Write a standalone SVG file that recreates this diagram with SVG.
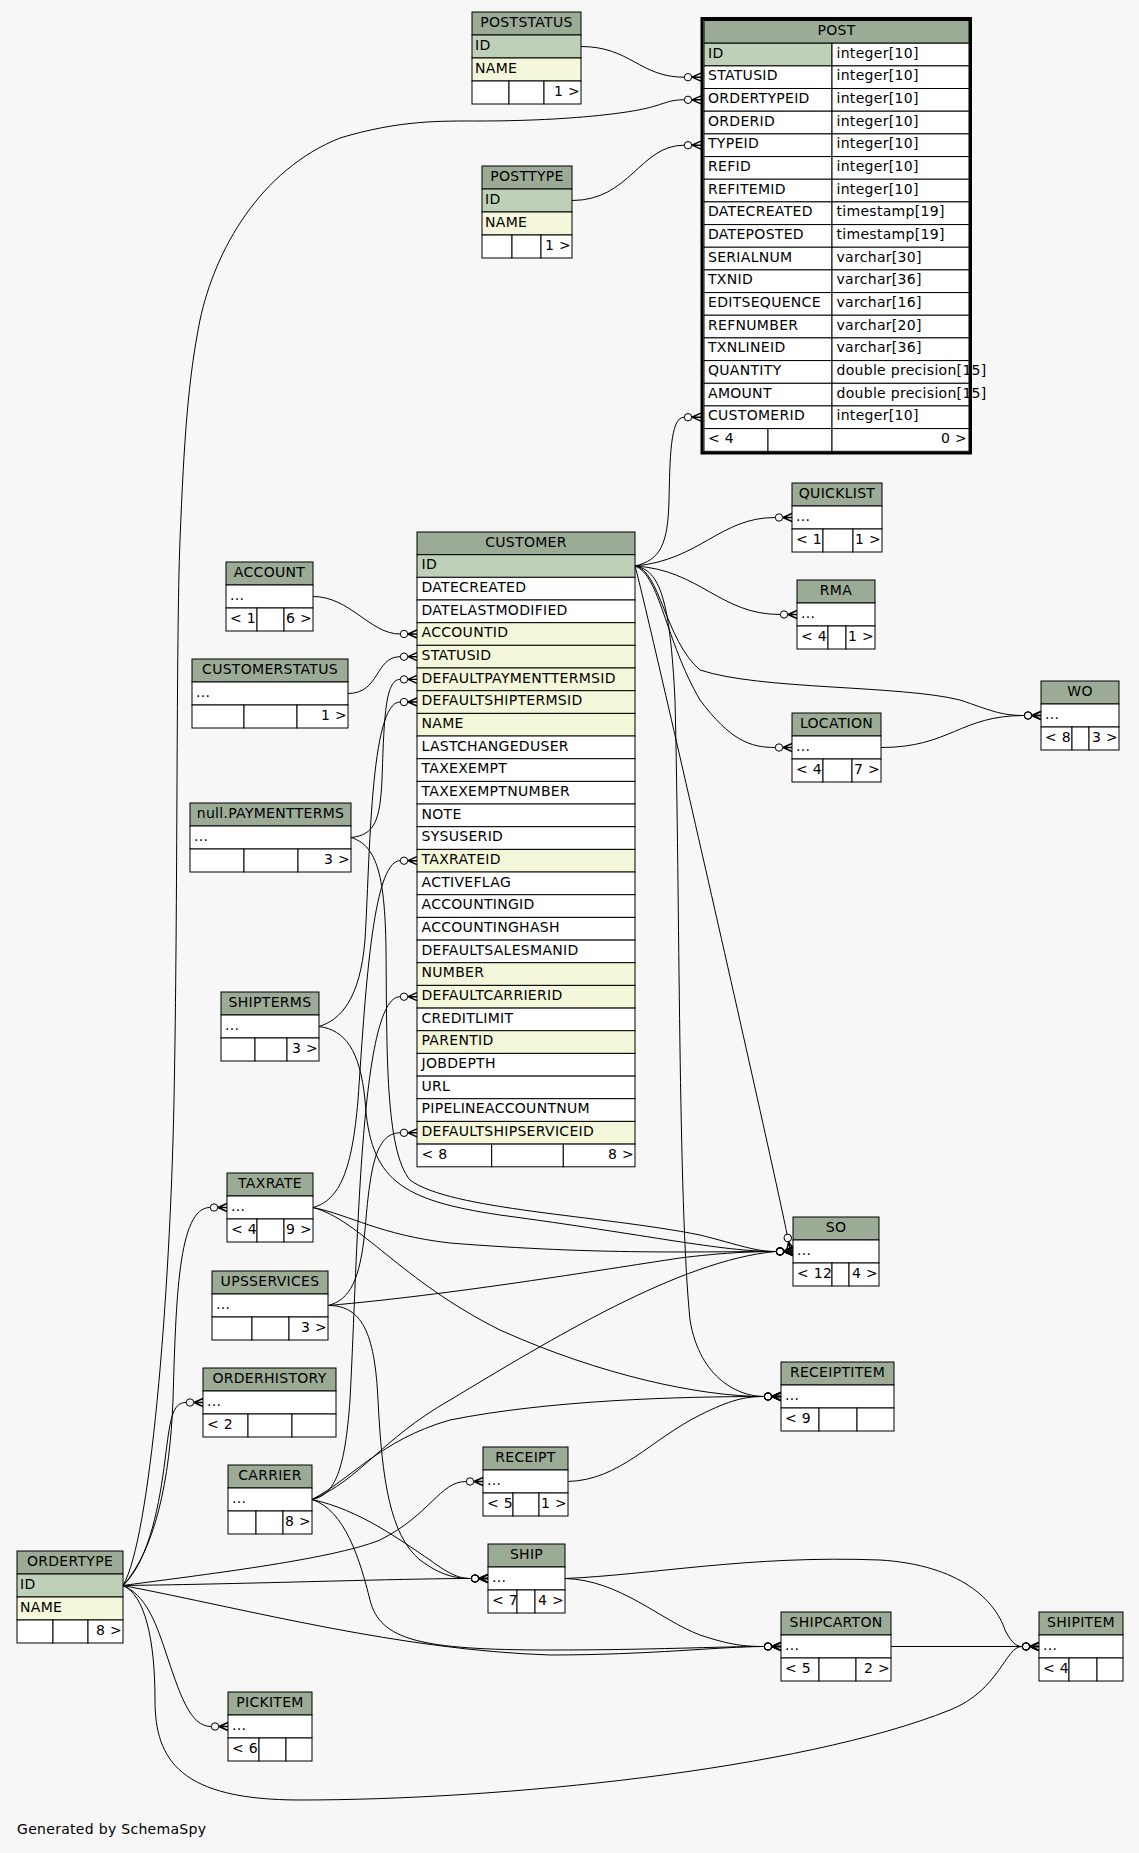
<svg xmlns="http://www.w3.org/2000/svg" width="1139" height="1853" viewBox="0 0 1139 1853">
<style>
text{font-family:"DejaVu Sans","Liberation Sans",sans-serif;font-size:14px;letter-spacing:0.3px;fill:#000;transform:translate(0px,-1.5px)}
.c{text-anchor:middle}
.r{text-anchor:end}
rect{stroke:#000;stroke-width:1}
.h{fill:#9bab96}
.p{fill:#bed1b8}
.i{fill:#f4f7da}
.w{fill:#fff}
.e path{fill:none;stroke:#000;stroke-width:1;marker-end:url(#co)}
</style>
<defs>
<marker id="co" viewBox="0 -6 18 12" refX="0" refY="0" markerWidth="18" markerHeight="12" markerUnits="userSpaceOnUse" orient="auto" overflow="visible">
<circle cx="4" cy="0" r="3.7" fill="none" stroke="#000" stroke-width="1"/>
<path d="M8,0 L17,-4 M8,0 L17,0 M8,0 L17,4" stroke="#000" stroke-width="1.4" fill="none"/>
</marker>
</defs>
<rect x="0" y="0" width="1139" height="1853" fill="#f7f7f7" style="stroke:none"/>

<g class="e" id="connectors">
<path d="M581,46.5 C630,46.5 640,77.2 684,77.2"/>
<path d="M572,200.5 C630,200.5 640,145.2 684,145.2"/>
<path d="M123,1585.5 C150,1540 170,1300 174,1100 C178,900 176,640 180,540 C184,440 188,380 200,320 C215,250 260,170 340,138 C400,120 440,121 480,121 C560,121 630,114 655,106 C668,102 672,99.8 684,99.8"/>
<path d="M123,1585.5 C155,1550 170,1480 173,1400 C176,1300 178,1207.5 210,1207.5"/>
<path d="M123,1585.5 C150,1560 160,1500 165,1460 C170,1420 172,1402.5 186,1402.5"/>
<path d="M123,1585.5 C145,1595 155,1620 165,1650 C180,1695 190,1726.5 211,1726.5"/>
<path d="M123,1585.5 C145,1595 155,1640 155,1700 C155,1760 180,1800 300,1800 C500,1800 800,1770 950,1710 C1000,1690 1005,1646.5 1022,1646.5"/>
<path d="M123,1585.5 C200,1575 330,1560 380,1540 C430,1515 440,1481.5 466,1481.5"/>
<path d="M123,1585.5 C250,1584 400,1578.5 471,1578.5"/>
<path d="M123,1585.5 C250,1610 400,1650 550,1655 C650,1655 720,1646.5 764,1646.5"/>
<path d="M313,596.5 C350,596.5 370,634 400,634"/>
<path d="M348,693.5 C380,693.5 375,656.7 400,656.7"/>
<path d="M351,837.5 C375,835 380,820 382,780 C384,720 385,679.4 400,679.4"/>
<path d="M319,1026.5 C340,1020 360,1000 365,940 C370,860 370,702 400,702"/>
<path d="M313,1207.5 C340,1200 352,1170 358,1100 C365,1000 372,860.7 400,860.7"/>
<path d="M312,1499.5 C335,1495 345,1470 350,1400 C358,1250 360,996.7 400,996.7"/>
<path d="M328,1305.5 C350,1300 360,1280 365,1230 C370,1170 375,1132.8 400,1132.8"/>
<path d="M635,566 C645,600 770,1150 787,1234"/>
<path d="M351,837.5 C375,845 385,870 386,950 C387,1050 385,1150 410,1180 C450,1210 600,1215 700,1235 C740,1245 755,1251.5 776,1251.5"/>
<path d="M313,1207.5 C350,1215 380,1235 450,1243 C600,1255 700,1251.5 776,1251.5"/>
<path d="M328,1305.5 C450,1295 600,1270 680,1258 C720,1253 750,1251.5 776,1251.5"/>
<path d="M312,1499.5 C360,1480 380,1440 450,1400 C550,1340 680,1260 776,1251.5"/>
<path d="M319,1026.5 C345,1030 360,1050 365,1100 C370,1180 400,1200 500,1215 C650,1235 720,1251.5 776,1251.5"/>
<path d="M313,1207.5 C360,1220 400,1280 500,1330 C600,1375 700,1396.5 764,1396.5"/>
<path d="M635,566 C660,570 670,600 675,700 C680,900 678,1200 690,1320 C700,1380 740,1396.5 764,1396.5"/>
<path d="M568,1481.5 C620,1480 650,1440 700,1415 C730,1400 745,1396.5 764,1396.5"/>
<path d="M312,1499.5 C350,1480 380,1440 450,1420 C550,1400 680,1396.5 764,1396.5"/>
<path d="M328,1305.5 C365,1305 375,1340 378,1400 C382,1480 390,1535 420,1560 C440,1575 455,1578.5 471,1578.5"/>
<path d="M312,1499.5 C360,1510 400,1540 430,1560 C450,1575 460,1578.5 471,1578.5"/>
<path d="M312,1499.5 C345,1510 360,1560 370,1600 C380,1640 420,1650 550,1650 C650,1650 720,1646.5 764,1646.5"/>
<path d="M565,1578.5 C620,1580 660,1620 700,1635 C730,1645 745,1646.5 764,1646.5"/>
<path d="M565,1578.5 C650,1575 750,1555 880,1560 C960,1565 995,1600 1005,1630 C1010,1640 1015,1646.5 1022,1646.5"/>
<path d="M891,1646.5 L1022,1646.5"/>
<path d="M881,747.5 C950,747.5 960,715.5 1024,715.5"/>
<path d="M635,566 C660,570 665,640 700,670 C760,690 900,685 960,700 C990,710 1000,715.5 1024,715.5"/>
<path d="M635,566 C660,575 665,640 700,700 C730,740 750,747.5 775,747.5"/>
<path d="M635,566 C700,570 720,614.5 780,614.5"/>
<path d="M635,566 C700,560 720,517.5 775,517.5"/>
<path d="M635,566 C660,560 668,545 669,500 C670,460 670,417.2 684,417.2"/>
</g>

<g id="POST">
<rect x="702" y="18.5" width="268.5" height="434.5" fill="none" style="stroke-width:3"/>
<rect class="h" x="704" y="20.5" width="265" height="22.7"/><text class="c" x="836.5" y="36.5">POST</text>
<rect class="p" x="704" y="43.2" width="128" height="22.7"/><rect class="w" x="832" y="43.2" width="137" height="22.7"/><text x="708" y="59.2">ID</text><text x="836.5" y="59.2">integer[10]</text>
<rect class="w" x="704" y="65.9" width="128" height="22.7"/><rect class="w" x="832" y="65.9" width="137" height="22.7"/><text x="708" y="81.9">STATUSID</text><text x="836.5" y="81.9">integer[10]</text>
<rect class="w" x="704" y="88.5" width="128" height="22.7"/><rect class="w" x="832" y="88.5" width="137" height="22.7"/><text x="708" y="104.5">ORDERTYPEID</text><text x="836.5" y="104.5">integer[10]</text>
<rect class="w" x="704" y="111.2" width="128" height="22.7"/><rect class="w" x="832" y="111.2" width="137" height="22.7"/><text x="708" y="127.2">ORDERID</text><text x="836.5" y="127.2">integer[10]</text>
<rect class="w" x="704" y="133.9" width="128" height="22.7"/><rect class="w" x="832" y="133.9" width="137" height="22.7"/><text x="708" y="149.9">TYPEID</text><text x="836.5" y="149.9">integer[10]</text>
<rect class="w" x="704" y="156.6" width="128" height="22.7"/><rect class="w" x="832" y="156.6" width="137" height="22.7"/><text x="708" y="172.6">REFID</text><text x="836.5" y="172.6">integer[10]</text>
<rect class="w" x="704" y="179.2" width="128" height="22.7"/><rect class="w" x="832" y="179.2" width="137" height="22.7"/><text x="708" y="195.2">REFITEMID</text><text x="836.5" y="195.2">integer[10]</text>
<rect class="w" x="704" y="201.9" width="128" height="22.7"/><rect class="w" x="832" y="201.9" width="137" height="22.7"/><text x="708" y="217.9">DATECREATED</text><text x="836.5" y="217.9">timestamp[19]</text>
<rect class="w" x="704" y="224.6" width="128" height="22.7"/><rect class="w" x="832" y="224.6" width="137" height="22.7"/><text x="708" y="240.6">DATEPOSTED</text><text x="836.5" y="240.6">timestamp[19]</text>
<rect class="w" x="704" y="247.2" width="128" height="22.7"/><rect class="w" x="832" y="247.2" width="137" height="22.7"/><text x="708" y="263.2">SERIALNUM</text><text x="836.5" y="263.2">varchar[30]</text>
<rect class="w" x="704" y="269.9" width="128" height="22.7"/><rect class="w" x="832" y="269.9" width="137" height="22.7"/><text x="708" y="285.9">TXNID</text><text x="836.5" y="285.9">varchar[36]</text>
<rect class="w" x="704" y="292.6" width="128" height="22.7"/><rect class="w" x="832" y="292.6" width="137" height="22.7"/><text x="708" y="308.6">EDITSEQUENCE</text><text x="836.5" y="308.6">varchar[16]</text>
<rect class="w" x="704" y="315.2" width="128" height="22.7"/><rect class="w" x="832" y="315.2" width="137" height="22.7"/><text x="708" y="331.2">REFNUMBER</text><text x="836.5" y="331.2">varchar[20]</text>
<rect class="w" x="704" y="337.9" width="128" height="22.7"/><rect class="w" x="832" y="337.9" width="137" height="22.7"/><text x="708" y="353.9">TXNLINEID</text><text x="836.5" y="353.9">varchar[36]</text>
<rect class="w" x="704" y="360.6" width="128" height="22.7"/><rect class="w" x="832" y="360.6" width="137" height="22.7"/><text x="708" y="376.6">QUANTITY</text><text x="836.5" y="376.6">double precision[15]</text>
<rect class="w" x="704" y="383.3" width="128" height="22.7"/><rect class="w" x="832" y="383.3" width="137" height="22.7"/><text x="708" y="399.3">AMOUNT</text><text x="836.5" y="399.3">double precision[15]</text>
<rect class="w" x="704" y="405.9" width="128" height="22.7"/><rect class="w" x="832" y="405.9" width="137" height="22.7"/><text x="708" y="421.9">CUSTOMERID</text><text x="836.5" y="421.9">integer[10]</text>
<rect class="w" x="704" y="428.6" width="64" height="22.7"/><rect class="w" x="768" y="428.6" width="64" height="22.7"/><rect class="w" x="832" y="428.6" width="137" height="22.7"/><text x="708" y="444.6">&lt; 4</text><text class="r" x="967" y="444.6">0 &gt;</text>
</g>

<g id="POSTSTATUS">
<rect class="h" x="472" y="12" width="109" height="23"/><text class="c" x="526.5" y="28">POSTSTATUS</text>
<rect class="p" x="472" y="35" width="109" height="23"/><text x="475" y="51">ID</text>
<rect class="i" x="472" y="58" width="109" height="23"/><text x="475" y="74">NAME</text>
<rect class="w" x="472" y="81" width="37" height="23"/><rect class="w" x="509" y="81" width="35" height="23"/><rect class="w" x="544" y="81" width="37" height="23"/><text class="r" x="580" y="97">1 &gt;</text>
</g>

<g id="POSTTYPE">
<rect class="h" x="482" y="166" width="90" height="23"/><text class="c" x="527" y="182">POSTTYPE</text>
<rect class="p" x="482" y="189" width="90" height="23"/><text x="485" y="205">ID</text>
<rect class="i" x="482" y="212" width="90" height="23"/><text x="485" y="228">NAME</text>
<rect class="w" x="482" y="235" width="30" height="23"/><rect class="w" x="512" y="235" width="29" height="23"/><rect class="w" x="541" y="235" width="31" height="23"/><text class="r" x="571" y="251">1 &gt;</text>
</g>

<g id="CUSTOMER">
<rect class="h" x="417" y="532" width="218" height="22.7"/><text class="c" x="526" y="548">CUSTOMER</text>
<rect class="p" x="417" y="554.7" width="218" height="22.7"/><text x="421.5" y="570.7">ID</text>
<rect class="w" x="417" y="577.3" width="218" height="22.7"/><text x="421.5" y="593.3">DATECREATED</text>
<rect class="w" x="417" y="600" width="218" height="22.7"/><text x="421.5" y="616">DATELASTMODIFIED</text>
<rect class="i" x="417" y="622.7" width="218" height="22.7"/><text x="421.5" y="638.7">ACCOUNTID</text>
<rect class="i" x="417" y="645.3" width="218" height="22.7"/><text x="421.5" y="661.3">STATUSID</text>
<rect class="i" x="417" y="668" width="218" height="22.7"/><text x="421.5" y="684">DEFAULTPAYMENTTERMSID</text>
<rect class="i" x="417" y="690.7" width="218" height="22.7"/><text x="421.5" y="706.7">DEFAULTSHIPTERMSID</text>
<rect class="i" x="417" y="713.4" width="218" height="22.7"/><text x="421.5" y="729.4">NAME</text>
<rect class="w" x="417" y="736" width="218" height="22.7"/><text x="421.5" y="752">LASTCHANGEDUSER</text>
<rect class="w" x="417" y="758.7" width="218" height="22.7"/><text x="421.5" y="774.7">TAXEXEMPT</text>
<rect class="w" x="417" y="781.4" width="218" height="22.7"/><text x="421.5" y="797.4">TAXEXEMPTNUMBER</text>
<rect class="w" x="417" y="804" width="218" height="22.7"/><text x="421.5" y="820">NOTE</text>
<rect class="w" x="417" y="826.7" width="218" height="22.7"/><text x="421.5" y="842.7">SYSUSERID</text>
<rect class="i" x="417" y="849.4" width="218" height="22.7"/><text x="421.5" y="865.4">TAXRATEID</text>
<rect class="w" x="417" y="872" width="218" height="22.7"/><text x="421.5" y="888">ACTIVEFLAG</text>
<rect class="w" x="417" y="894.7" width="218" height="22.7"/><text x="421.5" y="910.7">ACCOUNTINGID</text>
<rect class="w" x="417" y="917.4" width="218" height="22.7"/><text x="421.5" y="933.4">ACCOUNTINGHASH</text>
<rect class="w" x="417" y="940.1" width="218" height="22.7"/><text x="421.5" y="956.1">DEFAULTSALESMANID</text>
<rect class="i" x="417" y="962.7" width="218" height="22.7"/><text x="421.5" y="978.7">NUMBER</text>
<rect class="i" x="417" y="985.4" width="218" height="22.7"/><text x="421.5" y="1001.4">DEFAULTCARRIERID</text>
<rect class="w" x="417" y="1008.1" width="218" height="22.7"/><text x="421.5" y="1024.1">CREDITLIMIT</text>
<rect class="i" x="417" y="1030.7" width="218" height="22.7"/><text x="421.5" y="1046.7">PARENTID</text>
<rect class="w" x="417" y="1053.4" width="218" height="22.7"/><text x="421.5" y="1069.4">JOBDEPTH</text>
<rect class="w" x="417" y="1076.1" width="218" height="22.7"/><text x="421.5" y="1092.1">URL</text>
<rect class="w" x="417" y="1098.7" width="218" height="22.7"/><text x="421.5" y="1114.7">PIPELINEACCOUNTNUM</text>
<rect class="i" x="417" y="1121.4" width="218" height="22.7"/><text x="421.5" y="1137.4">DEFAULTSHIPSERVICEID</text>
<rect class="w" x="417" y="1144.1" width="74.7" height="22.7"/><rect class="w" x="491.7" y="1144.1" width="71.6" height="22.7"/><rect class="w" x="563.3" y="1144.1" width="71.7" height="22.7"/><text x="421.5" y="1160.1">&lt; 8</text><text class="r" x="634" y="1160.1">8 &gt;</text>
</g>

<g id="ACCOUNT">
<rect class="h" x="226" y="562" width="87" height="23"/><text class="c" x="269.5" y="578">ACCOUNT</text>
<rect class="w" x="226" y="585" width="87" height="23"/><text x="230" y="601">...</text>
<rect class="w" x="226" y="608" width="31" height="23"/><rect class="w" x="257" y="608" width="27" height="23"/><rect class="w" x="284" y="608" width="29" height="23"/><text x="230" y="624">&lt; 1</text><text class="r" x="312" y="624">6 &gt;</text>
</g>

<g id="CUSTOMERSTATUS">
<rect class="h" x="192" y="659" width="156" height="23"/><text class="c" x="270" y="675">CUSTOMERSTATUS</text>
<rect class="w" x="192" y="682" width="156" height="23"/><text x="196" y="698">...</text>
<rect class="w" x="192" y="705" width="52" height="23"/><rect class="w" x="244" y="705" width="53" height="23"/><rect class="w" x="297" y="705" width="51" height="23"/><text class="r" x="347" y="721">1 &gt;</text>
</g>

<g id="null.PAYMENTTERMS">
<rect class="h" x="190" y="803" width="161" height="23"/><text class="c" x="270.5" y="819">null.PAYMENTTERMS</text>
<rect class="w" x="190" y="826" width="161" height="23"/><text x="194" y="842">...</text>
<rect class="w" x="190" y="849" width="54" height="23"/><rect class="w" x="244" y="849" width="54" height="23"/><rect class="w" x="298" y="849" width="53" height="23"/><text class="r" x="350" y="865">3 &gt;</text>
</g>

<g id="SHIPTERMS">
<rect class="h" x="221" y="992" width="98" height="23"/><text class="c" x="270" y="1008">SHIPTERMS</text>
<rect class="w" x="221" y="1015" width="98" height="23"/><text x="225" y="1031">...</text>
<rect class="w" x="221" y="1038" width="34" height="23"/><rect class="w" x="255" y="1038" width="32" height="23"/><rect class="w" x="287" y="1038" width="32" height="23"/><text class="r" x="318" y="1054">3 &gt;</text>
</g>

<g id="TAXRATE">
<rect class="h" x="227" y="1173" width="86" height="23"/><text class="c" x="270" y="1189">TAXRATE</text>
<rect class="w" x="227" y="1196" width="86" height="23"/><text x="231" y="1212">...</text>
<rect class="w" x="227" y="1219" width="30" height="23"/><rect class="w" x="257" y="1219" width="27" height="23"/><rect class="w" x="284" y="1219" width="29" height="23"/><text x="231" y="1235">&lt; 4</text><text class="r" x="312" y="1235">9 &gt;</text>
</g>

<g id="UPSSERVICES">
<rect class="h" x="212" y="1271" width="116" height="23"/><text class="c" x="270" y="1287">UPSSERVICES</text>
<rect class="w" x="212" y="1294" width="116" height="23"/><text x="216" y="1310">...</text>
<rect class="w" x="212" y="1317" width="40" height="23"/><rect class="w" x="252" y="1317" width="37" height="23"/><rect class="w" x="289" y="1317" width="39" height="23"/><text class="r" x="327" y="1333">3 &gt;</text>
</g>

<g id="ORDERHISTORY">
<rect class="h" x="203" y="1368" width="133" height="23"/><text class="c" x="269.5" y="1384">ORDERHISTORY</text>
<rect class="w" x="203" y="1391" width="133" height="23"/><text x="207" y="1407">...</text>
<rect class="w" x="203" y="1414" width="45" height="23"/><rect class="w" x="248" y="1414" width="44" height="23"/><rect class="w" x="292" y="1414" width="44" height="23"/><text x="207" y="1430">&lt; 2</text>
</g>

<g id="CARRIER">
<rect class="h" x="228" y="1465" width="84" height="23"/><text class="c" x="270" y="1481">CARRIER</text>
<rect class="w" x="228" y="1488" width="84" height="23"/><text x="232" y="1504">...</text>
<rect class="w" x="228" y="1511" width="28" height="23"/><rect class="w" x="256" y="1511" width="27" height="23"/><rect class="w" x="283" y="1511" width="29" height="23"/><text class="r" x="311" y="1527">8 &gt;</text>
</g>

<g id="ORDERTYPE">
<rect class="h" x="17" y="1551" width="106" height="23"/><text class="c" x="70" y="1567">ORDERTYPE</text>
<rect class="p" x="17" y="1574" width="106" height="23"/><text x="20" y="1590">ID</text>
<rect class="i" x="17" y="1597" width="106" height="23"/><text x="20" y="1613">NAME</text>
<rect class="w" x="17" y="1620" width="36" height="23"/><rect class="w" x="53" y="1620" width="35" height="23"/><rect class="w" x="88" y="1620" width="35" height="23"/><text class="r" x="122" y="1636">8 &gt;</text>
</g>

<g id="PICKITEM">
<rect class="h" x="228" y="1692" width="84" height="23"/><text class="c" x="270" y="1708">PICKITEM</text>
<rect class="w" x="228" y="1715" width="84" height="23"/><text x="232" y="1731">...</text>
<rect class="w" x="228" y="1738" width="31" height="23"/><rect class="w" x="259" y="1738" width="27" height="23"/><rect class="w" x="286" y="1738" width="26" height="23"/><text x="232" y="1754">&lt; 6</text>
</g>

<g id="RECEIPT">
<rect class="h" x="483" y="1447" width="85" height="23"/><text class="c" x="525.5" y="1463">RECEIPT</text>
<rect class="w" x="483" y="1470" width="85" height="23"/><text x="487" y="1486">...</text>
<rect class="w" x="483" y="1493" width="30" height="23"/><rect class="w" x="513" y="1493" width="26" height="23"/><rect class="w" x="539" y="1493" width="29" height="23"/><text x="487" y="1509">&lt; 5</text><text class="r" x="567" y="1509">1 &gt;</text>
</g>

<g id="SHIP">
<rect class="h" x="488" y="1544" width="77" height="23"/><text class="c" x="526.5" y="1560">SHIP</text>
<rect class="w" x="488" y="1567" width="77" height="23"/><text x="492" y="1583">...</text>
<rect class="w" x="488" y="1590" width="29" height="23"/><rect class="w" x="517" y="1590" width="18" height="23"/><rect class="w" x="535" y="1590" width="30" height="23"/><text x="492" y="1606">&lt; 7</text><text class="r" x="564" y="1606">4 &gt;</text>
</g>

<g id="QUICKLIST">
<rect class="h" x="792" y="483" width="90" height="23"/><text class="c" x="837" y="499">QUICKLIST</text>
<rect class="w" x="792" y="506" width="90" height="23"/><text x="796" y="522">...</text>
<rect class="w" x="792" y="529" width="31" height="23"/><rect class="w" x="823" y="529" width="30" height="23"/><rect class="w" x="853" y="529" width="29" height="23"/><text x="796" y="545">&lt; 1</text><text class="r" x="881" y="545">1 &gt;</text>
</g>

<g id="RMA">
<rect class="h" x="797" y="580" width="78" height="23"/><text class="c" x="836" y="596">RMA</text>
<rect class="w" x="797" y="603" width="78" height="23"/><text x="801" y="619">...</text>
<rect class="w" x="797" y="626" width="31" height="23"/><rect class="w" x="828" y="626" width="18" height="23"/><rect class="w" x="846" y="626" width="29" height="23"/><text x="801" y="642">&lt; 4</text><text class="r" x="874" y="642">1 &gt;</text>
</g>

<g id="LOCATION">
<rect class="h" x="792" y="713" width="89" height="23"/><text class="c" x="836.5" y="729">LOCATION</text>
<rect class="w" x="792" y="736" width="89" height="23"/><text x="796" y="752">...</text>
<rect class="w" x="792" y="759" width="31" height="23"/><rect class="w" x="823" y="759" width="29" height="23"/><rect class="w" x="852" y="759" width="29" height="23"/><text x="796" y="775">&lt; 4</text><text class="r" x="880" y="775">7 &gt;</text>
</g>

<g id="WO">
<rect class="h" x="1041" y="681" width="78" height="23"/><text class="c" x="1080" y="697">WO</text>
<rect class="w" x="1041" y="704" width="78" height="23"/><text x="1045" y="720">...</text>
<rect class="w" x="1041" y="727" width="31" height="23"/><rect class="w" x="1072" y="727" width="17" height="23"/><rect class="w" x="1089" y="727" width="30" height="23"/><text x="1045" y="743">&lt; 8</text><text class="r" x="1118" y="743">3 &gt;</text>
</g>

<g id="SO">
<rect class="h" x="793" y="1217" width="86" height="23"/><text class="c" x="836" y="1233">SO</text>
<rect class="w" x="793" y="1240" width="86" height="23"/><text x="797" y="1256">...</text>
<rect class="w" x="793" y="1263" width="39" height="23"/><rect class="w" x="832" y="1263" width="17" height="23"/><rect class="w" x="849" y="1263" width="30" height="23"/><text x="797" y="1279">&lt; 12</text><text class="r" x="878" y="1279">4 &gt;</text>
</g>

<g id="RECEIPTITEM">
<rect class="h" x="781" y="1362" width="113" height="23"/><text class="c" x="837.5" y="1378">RECEIPTITEM</text>
<rect class="w" x="781" y="1385" width="113" height="23"/><text x="785" y="1401">...</text>
<rect class="w" x="781" y="1408" width="38" height="23"/><rect class="w" x="819" y="1408" width="38" height="23"/><rect class="w" x="857" y="1408" width="37" height="23"/><text x="785" y="1424">&lt; 9</text>
</g>

<g id="SHIPCARTON">
<rect class="h" x="781" y="1612" width="110" height="23"/><text class="c" x="836" y="1628">SHIPCARTON</text>
<rect class="w" x="781" y="1635" width="110" height="23"/><text x="785" y="1651">...</text>
<rect class="w" x="781" y="1658" width="38" height="23"/><rect class="w" x="819" y="1658" width="37" height="23"/><rect class="w" x="856" y="1658" width="35" height="23"/><text x="785" y="1674">&lt; 5</text><text class="r" x="890" y="1674">2 &gt;</text>
</g>

<g id="SHIPITEM">
<rect class="h" x="1039" y="1612" width="84" height="23"/><text class="c" x="1081" y="1628">SHIPITEM</text>
<rect class="w" x="1039" y="1635" width="84" height="23"/><text x="1043" y="1651">...</text>
<rect class="w" x="1039" y="1658" width="30" height="23"/><rect class="w" x="1069" y="1658" width="28" height="23"/><rect class="w" x="1097" y="1658" width="26" height="23"/><text x="1043" y="1674">&lt; 4</text>
</g>

<text x="17" y="1835">Generated by SchemaSpy</text>
</svg>
